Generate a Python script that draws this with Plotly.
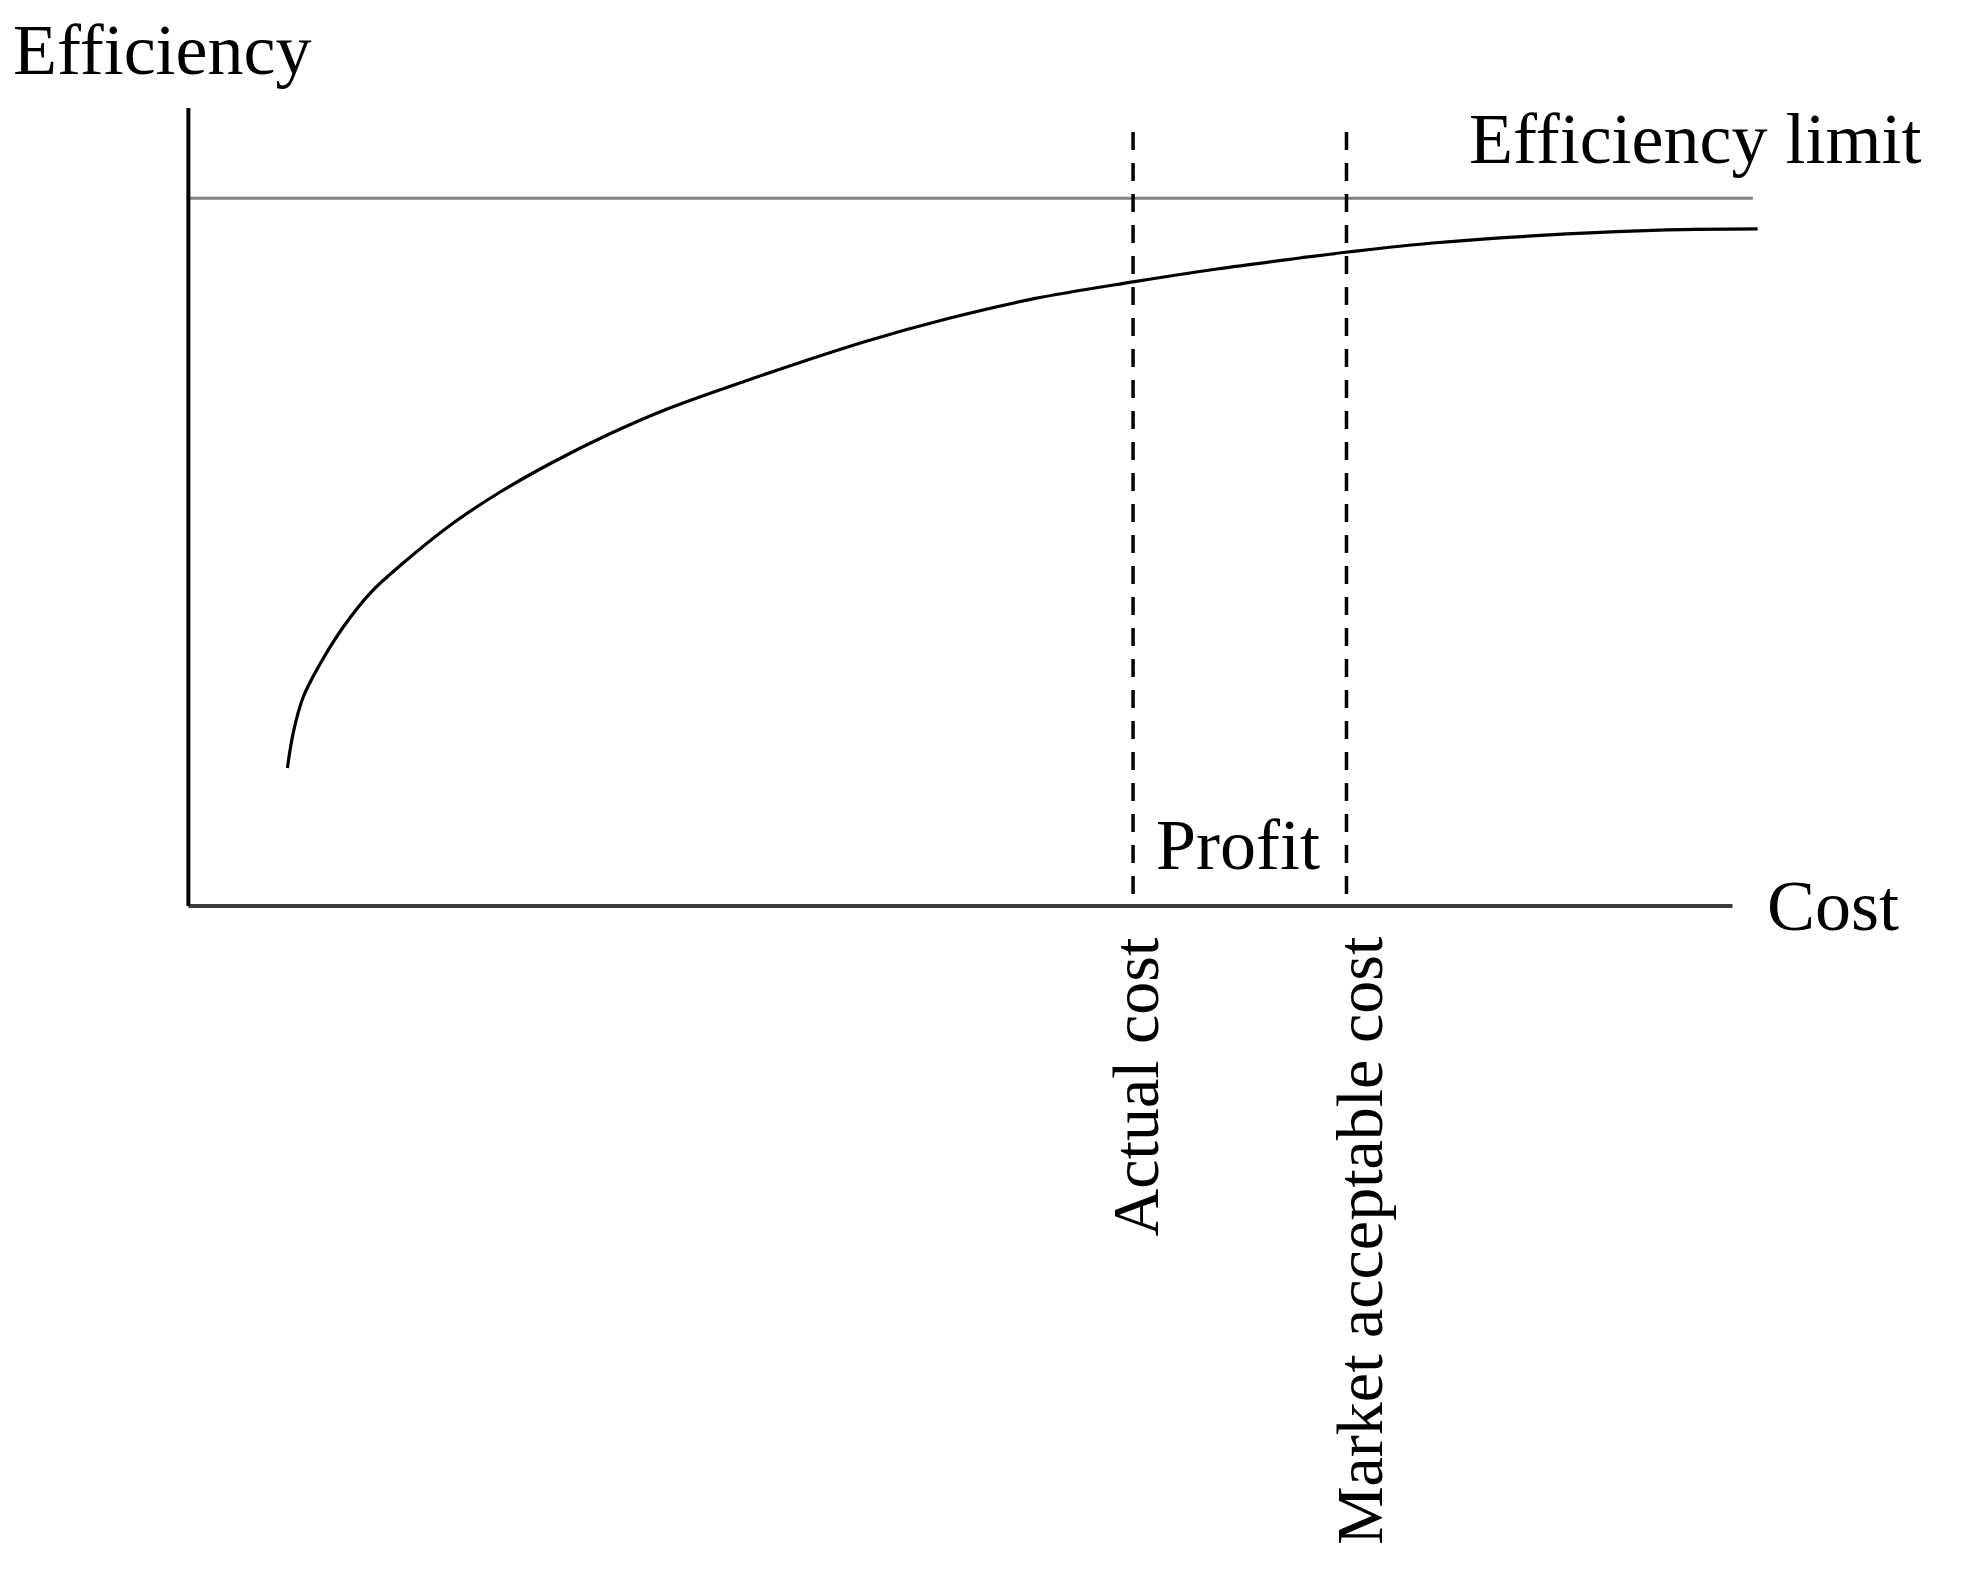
import plotly.graph_objects as go

# ---- data (arbitrary units: cost 0-100, efficiency 0-100) ----
cost = [6.31, 6.69, 7.32, 8.28, 9.87, 11.59, 13.69, 16.88, 19.87, 23.25, 26.69,
        30.51, 36.24, 43.25, 48.54, 53.82, 60.19, 65.54, 70.83, 73.89, 79.30,
        87.83, 94.20, 100.0]
efficiency = [17.29, 21.80, 26.19, 29.95, 34.96, 39.22, 42.98, 47.99, 51.88, 55.64,
              59.02, 62.28, 66.29, 70.80, 73.68, 76.07, 78.20, 79.82, 81.20, 81.95,
              83.08, 84.21, 84.71, 84.84]
efficiency_limit = 88.7
limit_x = [0, 99.7]
actual_cost = 60.2
market_acceptable_cost = 73.8
marker_line_top = 97.0
x_axis_end = 98.4
y_axis_top = 100.0

FONT = "Liberation Serif, Times New Roman, serif"

fig = go.Figure()

# efficiency limit
fig.add_trace(go.Scatter(x=limit_x, y=[efficiency_limit, efficiency_limit], mode="lines",
                         line=dict(color="#808080", width=3), hoverinfo="skip"))
# axes
fig.add_trace(go.Scatter(x=[0, x_axis_end], y=[0, 0], mode="lines",
                         line=dict(color="#3c3c3c", width=4), hoverinfo="skip"))
fig.add_trace(go.Scatter(x=[0, 0], y=[0, y_axis_top], mode="lines",
                         line=dict(color="#000000", width=4), hoverinfo="skip"))
# dashed cost markers (drawn top-down so the dash pattern starts at the top)
for xc in (actual_cost, market_acceptable_cost):
    fig.add_trace(go.Scatter(x=[xc, xc], y=[marker_line_top, 0], mode="lines",
                             line=dict(color="#000000", width=3.5, dash="18px,13px"),
                             hoverinfo="skip"))
# efficiency curve
fig.add_trace(go.Scatter(x=cost, y=efficiency, mode="lines", line_shape="spline",
                         line=dict(color="#000000", width=3.2), hoverinfo="skip"))

H_SIZE = 72
R_SIZE = 66
annos = [
    dict(text="Efficiency", x=-0.0894, y=1.040, xanchor="left", yanchor="middle",
         font=dict(size=H_SIZE)),
    dict(text="Efficiency limit", x=0.943, y=0.935, xanchor="center", yanchor="middle",
         font=dict(size=H_SIZE)),
    dict(text="Profit", x=0.6624, y=0.1005, xanchor="center", yanchor="middle",
         font=dict(size=H_SIZE)),
    dict(text="Cost", x=1.027, y=0.0284, xanchor="center", yanchor="middle",
         font=dict(size=H_SIZE)),
    dict(text="Actual cost", x=0.5995, y=-0.1856, xanchor="center", yanchor="middle",
         textangle=-90, font=dict(size=R_SIZE)),
    dict(text="Market acceptable cost", x=0.7370, y=-0.3680, xanchor="center",
         yanchor="middle", textangle=-90, font=dict(size=R_SIZE)),
]
for a in annos:
    a["font"].update(family=FONT, color="#000000")
    fig.add_annotation(xref="paper", yref="paper", showarrow=False, **a)

fig.update_layout(
    width=1962, height=1566, autosize=False,
    margin=dict(l=149, r=181, t=76, b=644, pad=0),
    paper_bgcolor="white", plot_bgcolor="white",
    showlegend=False,
)
fig.update_xaxes(range=[-2, 102], visible=False, showgrid=False, zeroline=False)
fig.update_yaxes(range=[-3, 103], visible=False, showgrid=False, zeroline=False)

fig.write_html("out.html")
